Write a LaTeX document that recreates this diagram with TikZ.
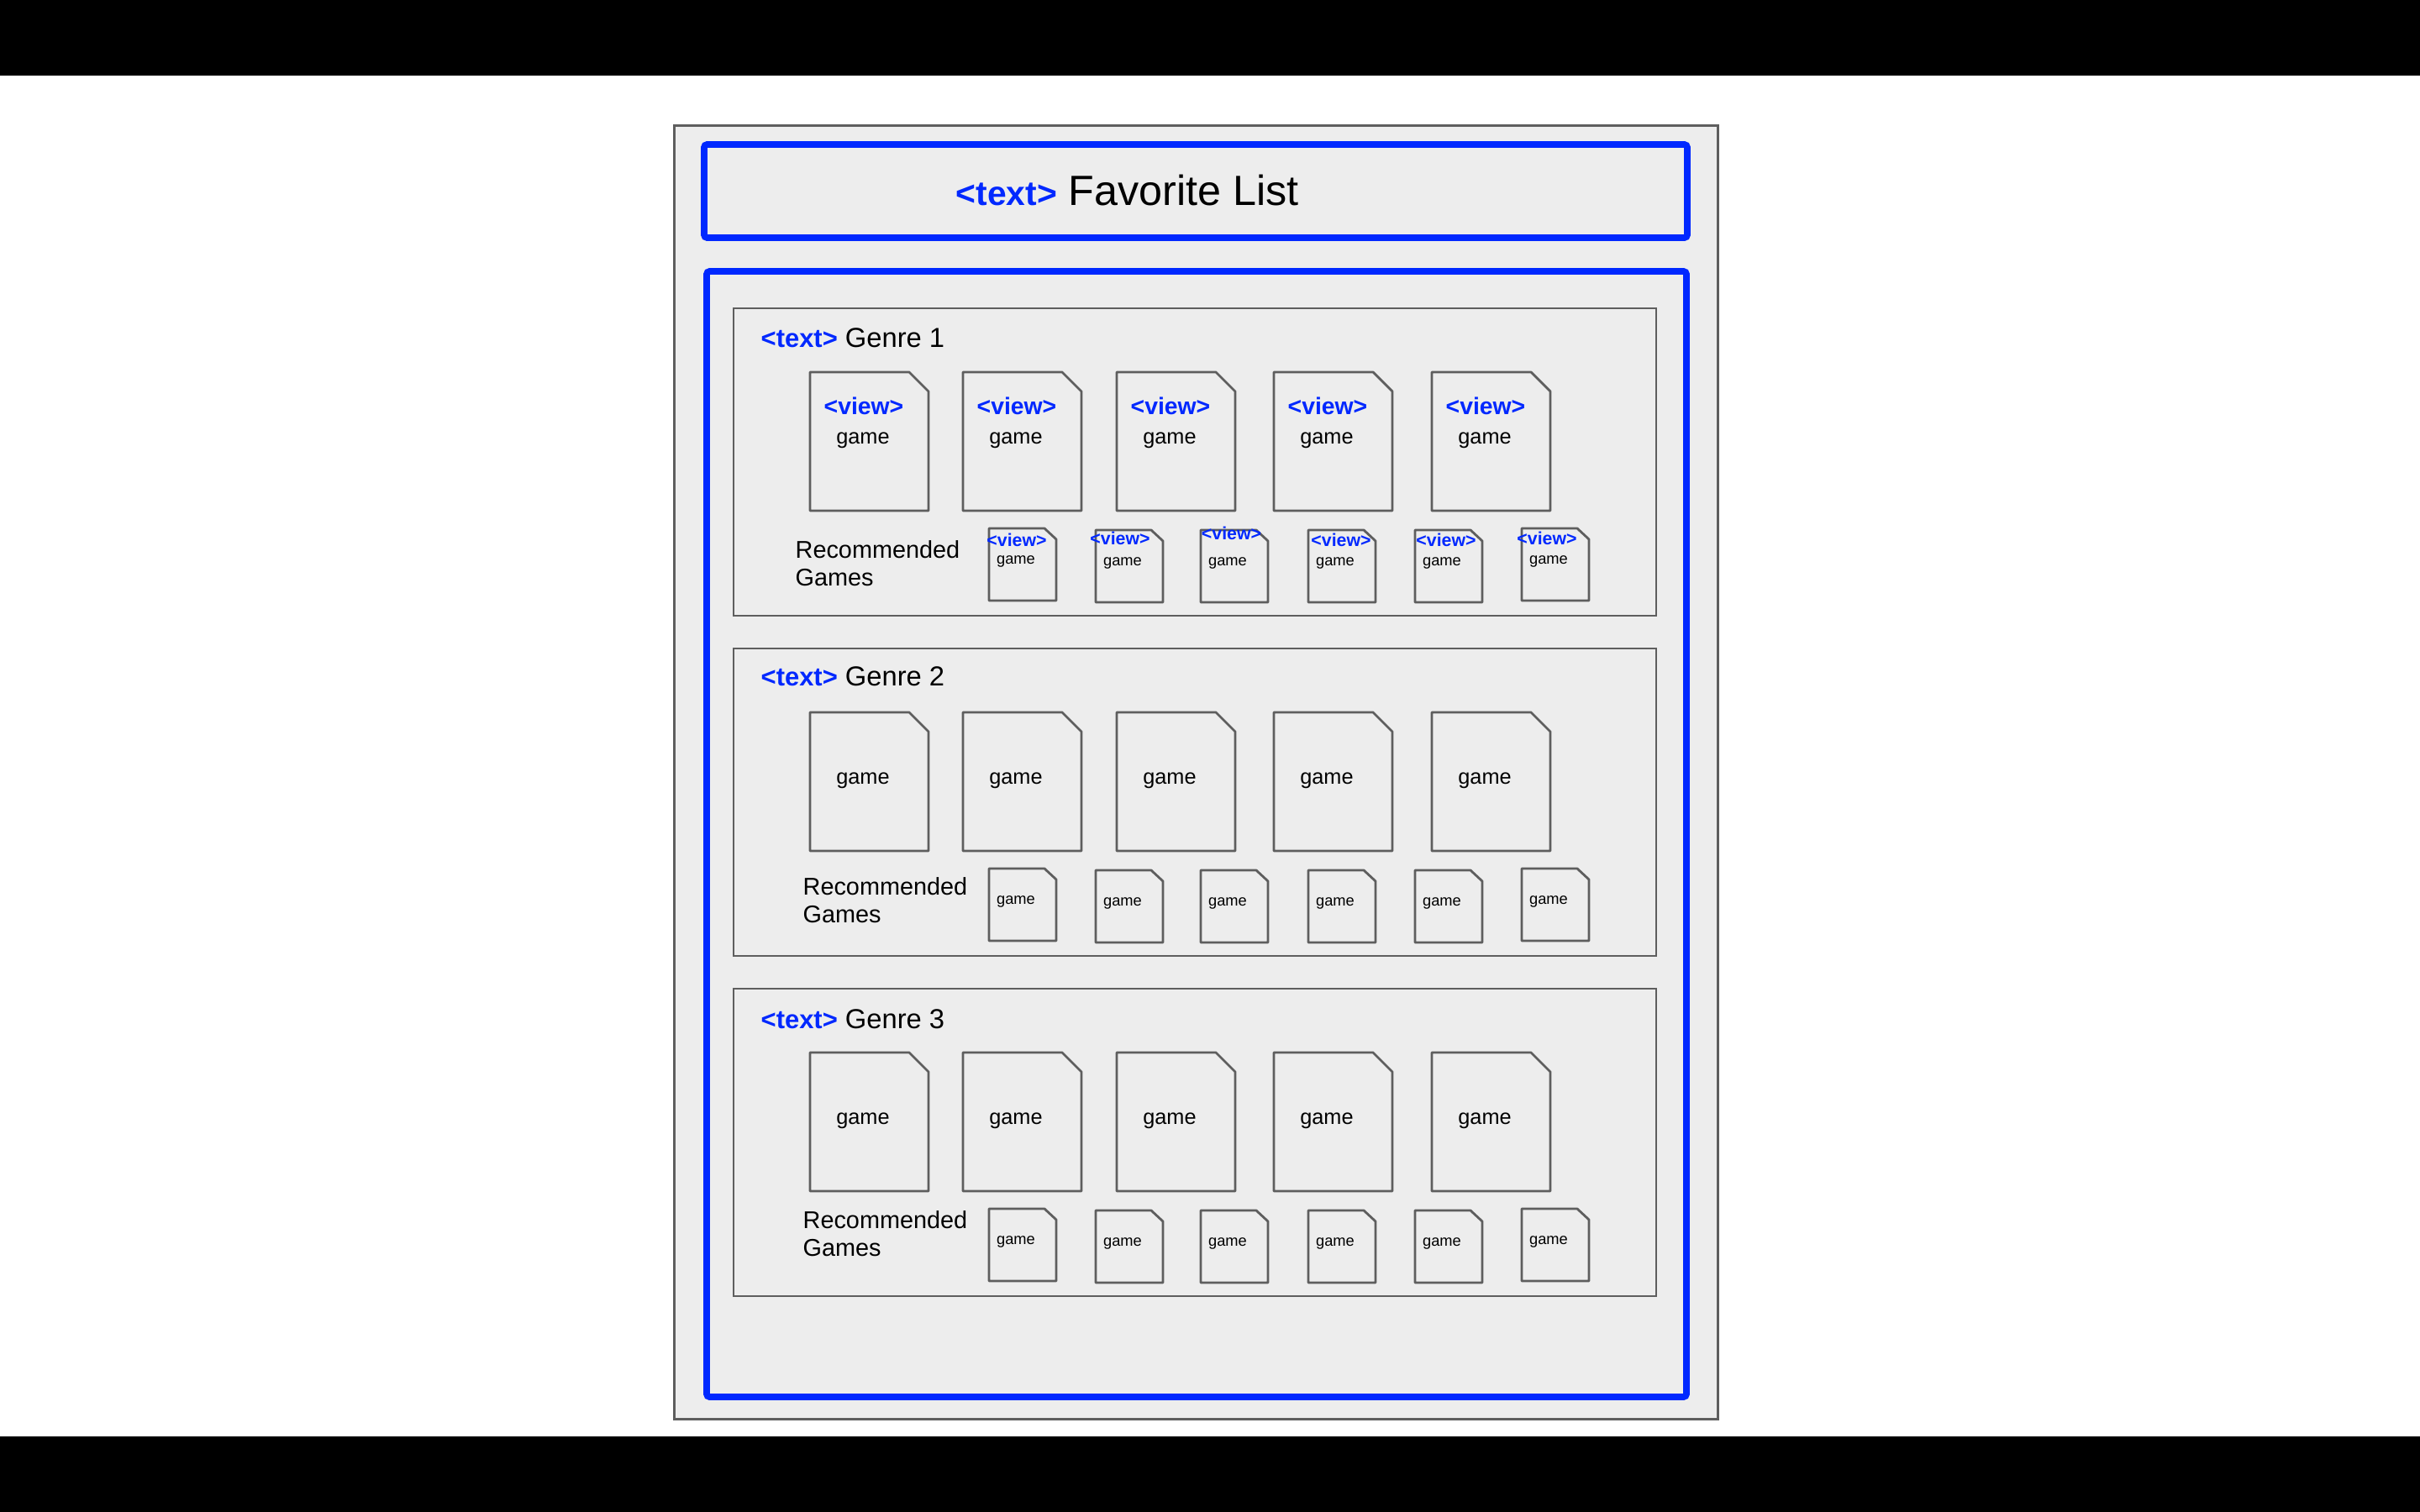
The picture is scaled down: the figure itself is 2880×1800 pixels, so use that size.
\documentclass[tikz,border=0pt]{standalone}
\usepackage{fontspec}
\setmainfont{Liberation Sans}
\usepackage{xcolor}
\definecolor{tagblue}{RGB}{0,40,255}
\definecolor{linegray}{RGB}{94,94,94}
\definecolor{panelgray}{RGB}{237,237,237}

\begin{document}
\begin{tikzpicture}[x=0.01cm, y=-0.01cm,
        panel/.style={draw=linegray, line width=0.95pt, fill=panelgray},
        frame/.style={draw=tagblue, line width=2.2pt, rounded corners=1pt},
        genrebox/.style={draw=linegray, line width=0.8pt},
        card/.style={draw=linegray, line width=0.8pt, line join=round},
        plain/.style={inner sep=0pt, text=black, anchor=base},
        tagtxt/.style={inner sep=0pt, text=tagblue, anchor=base}]
    \useasboundingbox (0,0) rectangle (2880,1800);
    \fill [white] (0,0) rectangle (2880,1800);
    \fill [black] (0,0) rectangle (2880,90);
    \fill [black] (0,1710) rectangle (2880,1800);

    \draw [panel] (802.5,149.5) rectangle (2044.5,1689.5);
    \draw [frame] (838,172) rectangle (2008,283);
    \node [plain, anchor=base west, font=\fontsize{14.3}{17}\selectfont] (title) at (1137,245)
        {\textcolor{tagblue}{\fontsize{11.6}{14}\selectfont\bfseries <text>} Favorite List};
    \draw [frame] (841,323) rectangle (2007,1663);

    \foreach \n/\tb/\rx/\ry [count=\g] in {0/413/946/643, 1/411/955/639, 2/414/955/631} {
        \begin{scope}[shift={(0,405*\n)}]
            \draw [genrebox] (873,367) rectangle (1971,733);
            \node [plain, anchor=base west, font=\fontsize{9.3}{11}\selectfont] (genre\g) at (905,\tb)
                {\textcolor{tagblue}{\fontsize{8.8}{10}\selectfont\bfseries <text>} Genre \g};

            \foreach \lx [count=\i] in {964,1146,1329,1516,1704} {
                \draw [card] (\lx,443) -- ++(118,0) -- ++(23,23) -- ++(0,142) -- ++(-141,0) -- cycle;
                \node [plain, font=\fontsize{7.2}{8}\selectfont] (game\g-\i) at (\lx+63,528) {game};
                \ifnum\n=0
                    \node [tagtxt, font=\fontsize{8.06}{9}\selectfont\bfseries] (view\g-\i) at (\lx+64,493) {<view>};
                \fi
            }

            \node [plain, anchor=north west, align=left, font=\fontsize{8.2}{9.4}\selectfont] (rec\g) at (\rx,\ry)
                {Recommended\\Games};

            \foreach \lx/\ty/\vx/\vy [count=\i] in {1177/629/33/21, 1304/631/29/18, 1429/631/36.5/11,
                                                    1557/631/39/19, 1684/631/37/19, 1811/629/30/20} {
                \draw [card] (\lx,\ty) -- ++(66,0) -- ++(14,13) -- ++(0,73) -- ++(-80,0) -- cycle;
                \node [plain, font=\fontsize{5.2}{6}\selectfont] (recgame\g-\i) at (\lx+32,\ty+42) {game};
                \ifnum\n=0
                    \node [tagtxt, font=\fontsize{6.06}{7}\selectfont\bfseries] (recview\g-\i) at (\lx+\vx,\ty+\vy) {<view>};
                \fi
            }
        \end{scope}
    }
\end{tikzpicture}
\end{document}
